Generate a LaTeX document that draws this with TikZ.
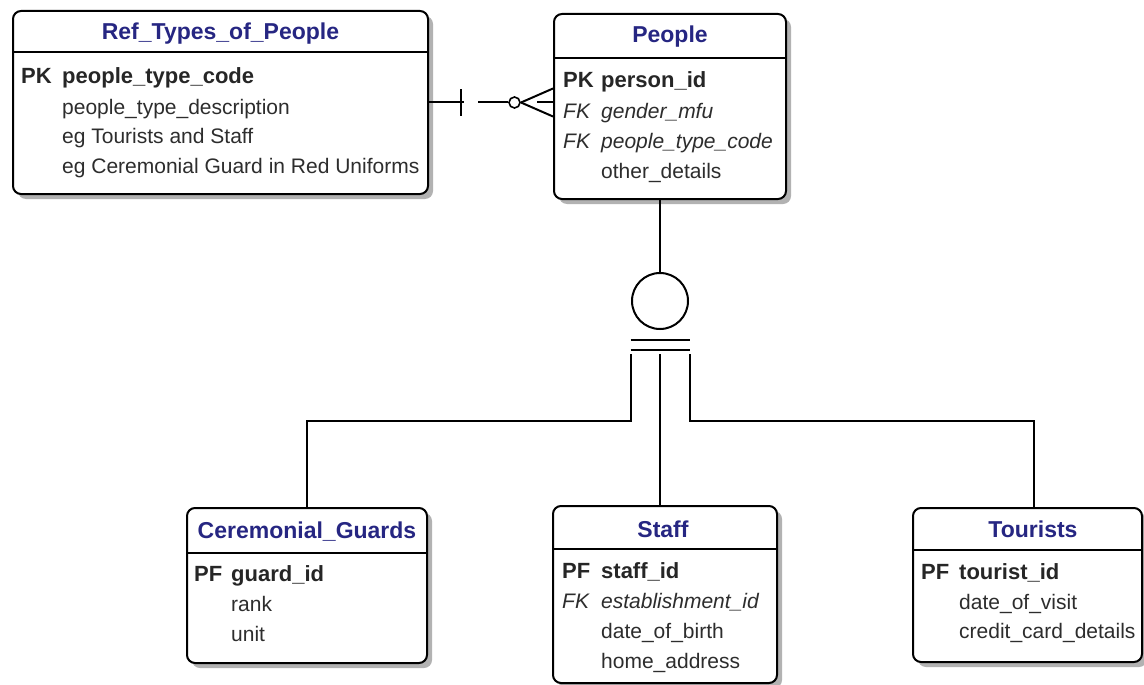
\documentclass[tikz,border=0pt]{standalone}
\usepackage{fontspec}
\setmainfont{Liberation Sans}
\usetikzlibrary{positioning,calc,shadows}
\definecolor{hdrblue}{RGB}{38,38,130}
\definecolor{txtgray}{RGB}{45,45,45}
\definecolor{shadowgray}{RGB}{178,178,178}

\begin{document}
\begin{tikzpicture}[x=1pt,y=-1pt,
  tbl/.style={draw,line width=2pt,rounded corners=8pt,fill=white,inner sep=0pt,
    drop shadow={shadow xshift=5pt,shadow yshift=-5pt,fill=shadowgray,opacity=1}},
  rule/.style={line width=2pt},
  conn/.style={line width=2pt},
  hdr/.style={text=hdrblue,font=\fontsize{23}{27}\selectfont\bfseries},
  attr/.style={anchor=base west,inner sep=0pt,text=txtgray,font=\fontsize{21}{25}\selectfont},
  keyb/.style={attr,text=black!85,font=\fontsize{22}{26}\selectfont\bfseries},
  fkey/.style={attr,font=\fontsize{21}{25}\selectfont\itshape}]

  \useasboundingbox[fill=white] (0,0) rectangle (1144,685);

  % Ref_Types_of_People
  \node[tbl,minimum width=415pt,minimum height=183pt] (reftypes) at (220.5,102.5) {};
  \node[hdr] (reftypes-t) at ($(reftypes.north)+(0,24)$) {Ref\_Types\_of\_People};
  \draw[rule] ($(reftypes.north west)+(0,42)$) -- ($(reftypes.north east)+(0,42)$);
  \node[keyb] (reftypes-k1) at ($(reftypes.north west)+(9,74)$) {PK};
  \node[keyb] (reftypes-a1) at ($(reftypes.north west)+(50,74)$) {people\_type\_code};
  \node[attr] (reftypes-a2) at ($(reftypes.north west)+(50,104)$) {people\_type\_description};
  \node[attr] (reftypes-a3) at ($(reftypes.north west)+(50,133)$) {eg Tourists and Staff};
  \node[attr] (reftypes-a4) at ($(reftypes.north west)+(50,163)$) {eg Ceremonial Guard in Red Uniforms};

  % People
  \node[tbl,minimum width=232pt,minimum height=185pt] (people) at (670,106.5) {};
  \node[hdr] (people-t) at ($(people.north)+(0,24)$) {People};
  \draw[rule] ($(people.north west)+(0,45)$) -- ($(people.north east)+(0,45)$);
  \node[keyb] (people-k1) at ($(people.north west)+(10,75)$) {PK};
  \node[keyb] (people-a1) at ($(people.north west)+(48,75)$) {person\_id};
  \node[fkey] (people-k2) at ($(people.north west)+(10,105)$) {FK};
  \node[fkey] (people-a2) at ($(people.north west)+(48,105)$) {gender\_mfu};
  \node[fkey] (people-k3) at ($(people.north west)+(10,135)$) {FK};
  \node[fkey] (people-a3) at ($(people.north west)+(48,135)$) {people\_type\_code};
  \node[attr] (people-a4) at ($(people.north west)+(48,165)$) {other\_details};

  % Ceremonial_Guards
  \node[tbl,minimum width=240pt,minimum height=155pt] (guards) at (307,585.5) {};
  \node[hdr] (guards-t) at ($(guards.north)+(0,25)$) {Ceremonial\_Guards};
  \draw[rule] ($(guards.north west)+(0,46)$) -- ($(guards.north east)+(0,46)$);
  \node[keyb] (guards-k1) at ($(guards.north west)+(8,74)$) {PF};
  \node[keyb] (guards-a1) at ($(guards.north west)+(45,74)$) {guard\_id};
  \node[attr] (guards-a2) at ($(guards.north west)+(45,104)$) {rank};
  \node[attr] (guards-a3) at ($(guards.north west)+(45,134)$) {unit};

  % Staff
  \node[tbl,minimum width=224pt,minimum height=177pt] (staff) at (665,594.5) {};
  \node[hdr] (staff-t) at ($(staff.north)+(-2,24)$) {Staff};
  \draw[rule] ($(staff.north west)+(0,44)$) -- ($(staff.north east)+(0,44)$);
  \node[keyb] (staff-k1) at ($(staff.north west)+(10,73)$) {PF};
  \node[keyb] (staff-a1) at ($(staff.north west)+(49,73)$) {staff\_id};
  \node[fkey] (staff-k2) at ($(staff.north west)+(10,103)$) {FK};
  \node[fkey] (staff-a2) at ($(staff.north west)+(49,103)$) {establishment\_id};
  \node[attr] (staff-a3) at ($(staff.north west)+(49,133)$) {date\_of\_birth};
  \node[attr] (staff-a4) at ($(staff.north west)+(49,163)$) {home\_address};

  % Tourists
  \node[tbl,minimum width=229pt,minimum height=154pt] (tourists) at (1027.5,585) {};
  \node[hdr] (tourists-t) at ($(tourists.north)+(5.5,22)$) {Tourists};
  \draw[rule] ($(tourists.north west)+(0,43)$) -- ($(tourists.north east)+(0,43)$);
  \node[keyb] (tourists-k1) at ($(tourists.north west)+(9,72)$) {PF};
  \node[keyb] (tourists-a1) at ($(tourists.north west)+(47,72)$) {tourist\_id};
  \node[attr] (tourists-a2) at ($(tourists.north west)+(47,102)$) {date\_of\_visit};
  \node[attr] (tourists-a3) at ($(tourists.north west)+(47,131)$) {credit\_card\_details};

  % one to zero-or-many: Ref_Types_of_People -- People
  \coordinate (fkend) at (people.west |- reftypes.east);
  \draw[conn] (reftypes.east) -- ++(35,0);
  \draw[conn] ($(reftypes.east)+(32,-13)$) -- ++(0,26);
  \draw[conn] ($(reftypes.east)+(49,0)$) -- ++(30,0);
  \draw[line width=1.6pt] ($(reftypes.east)+(85.5,0)$) circle[radius=5.5];
  \draw[conn] ($(fkend)+(-32,0)$) -- ($(fkend)+(0,-14)$);
  \draw[conn] ($(fkend)+(-32,0)$) -- ($(fkend)+(0,14)$);
  \draw[conn] ($(fkend)+(-16,0)$) -- (fkend);

  % subtype category: People -> Ceremonial_Guards, Staff, Tourists
  \node[draw,conn,circle,minimum size=56pt,inner sep=0pt] (cat) at (660,301) {};
  \draw[conn] (cat.north) -- (cat.north |- people.south);
  \draw[conn] ($(cat.south)+(-29.5,10)$) -- ++(59,0);
  \draw[conn] ($(cat.south)+(-29.5,20)$) -- ++(59,0);
  \coordinate (catl) at ($(cat.south)+(-29,24)$);
  \coordinate (catm) at ($(cat.south)+(0,24)$);
  \coordinate (catr) at ($(cat.south)+(30,24)$);
  \draw[conn] (catl) |- ($(guards.north)+(0,-86)$) -- (guards.north);
  \draw[conn] (catm) -- (catm |- staff.north);
  \draw[conn] (catr) |- ($(tourists.north)+(6,-86)$) -- ($(tourists.north)+(6,0)$);
\end{tikzpicture}
\end{document}
